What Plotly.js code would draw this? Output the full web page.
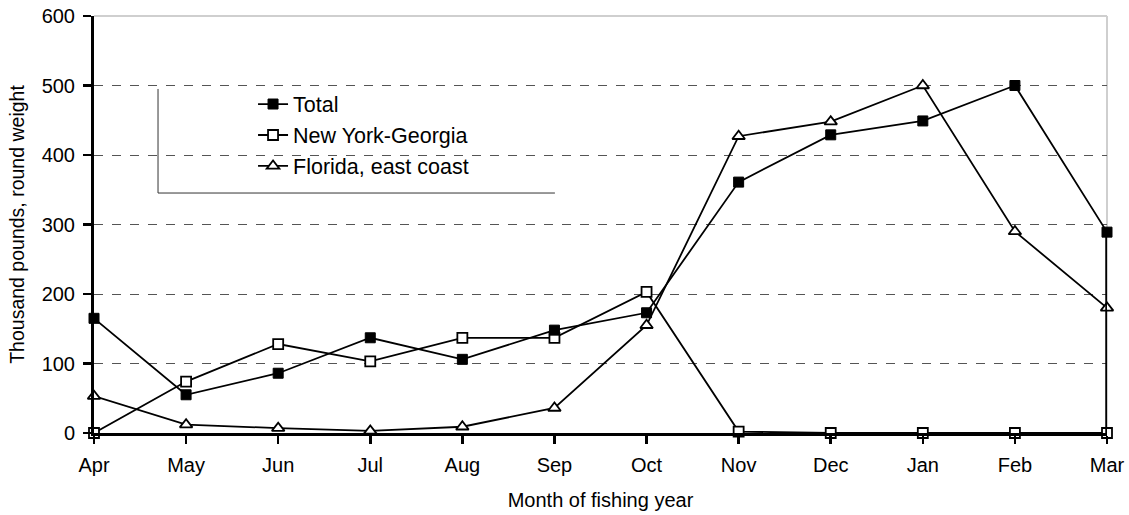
<!DOCTYPE html>
<html>
<head>
<meta charset="utf-8">
<script src="https://cdn.plot.ly/plotly-3.0.1.min.js"></script>
<style>html,body{margin:0;padding:0;background:#fff;}#chart{width:1129px;height:515px;}</style>
</head>
<body>
<div id="chart"></div>
<script>
const months = ["Apr","May","Jun","Jul","Aug","Sep","Oct","Nov","Dec","Jan","Feb","Mar"];
const total = [165, 55, 86, 137, 106, 148, 173, 361, 429, 449, 500, 289];
const newYorkGeorgia = [0, 74, 128, 103, 137, 137, 203, 2, 0, 0, 0, 0];
const floridaEast = [53, 12, 7, 3, 9, 36, 155, 427, 448, 500, 290, 180];
const yTicks = [0, 100, 200, 300, 400, 500, 600];

const FONT = "Liberation Sans, Arial, sans-serif";
const lineStyle = {color: "#000", width: 1.8};

const traces = [
  {
    x: months, y: floridaEast, type: "scatter", mode: "lines+markers",
    name: "Florida, east coast", legendgroup: "c", legendrank: 3,
    line: lineStyle, cliponaxis: false,
    marker: {symbol: "triangle-up", size: 11, color: "#fff", line: {color: "#000", width: 1.8}}
  },
  {
    x: months, y: newYorkGeorgia, type: "scatter", mode: "lines+markers",
    name: "New York-Georgia", legendgroup: "b", legendrank: 2,
    line: lineStyle, cliponaxis: false,
    marker: {symbol: "square", size: 10, color: "#fff", line: {color: "#000", width: 1.8}}
  },
  {
    x: months, y: total, type: "scatter", mode: "lines+markers",
    name: "Total", legendgroup: "a", legendrank: 1,
    line: lineStyle, cliponaxis: false,
    marker: {symbol: "square", size: 10, color: "#000", line: {color: "#000", width: 1}}
  },
  {
    x: [months[months.length - 1], months[months.length - 1]],
    y: [0, total[total.length - 1]],
    type: "scatter", mode: "lines", showlegend: false, hoverinfo: "skip",
    line: {color: "#000", width: 3.5}, cliponaxis: false
  }
];

const layout = {
  width: 1129, height: 515,
  margin: {l: 94, r: 22, t: 16, b: 82},
  paper_bgcolor: "#fff", plot_bgcolor: "#fff",
  font: {family: FONT, size: 20, color: "#000"},
  showlegend: true,
  legend: {
    x: 0.157, y: 0.838, xanchor: "left", yanchor: "top",
    bgcolor: "rgba(0,0,0,0)", borderwidth: 0,
    font: {family: FONT, size: 21.5, color: "#000"},
    tracegroupgap: 0, traceorder: "normal"
  },
  xaxis: {
    type: "category", range: [0, months.length - 1],
    showline: true, linecolor: "#000", linewidth: 3,
    ticks: "outside", ticklen: 8, tickwidth: 2.5, tickcolor: "#000",
    showgrid: false, zeroline: false,
    tickfont: {family: FONT, size: 20, color: "#000"},
    ticklabelstandoff: 4,
    title: {text: "Month of fishing year", font: {family: FONT, size: 20, color: "#000"}, standoff: 18}
  },
  yaxis: {
    range: [0, 600], tickvals: yTicks, ticktext: yTicks.map(String),
    showline: true, linecolor: "#000", linewidth: 3,
    ticks: "outside", ticklen: 8, tickwidth: 2.5, tickcolor: "#000",
    showgrid: true, gridcolor: "#555", gridwidth: 1, griddash: "dash",
    zeroline: false,
    tickfont: {family: FONT, size: 20, color: "#000"},
    ticklabelstandoff: 4,
    title: {text: "Thousand pounds, round weight", font: {family: FONT, size: 19.5, color: "#000"}, standoff: 12}
  },
  shapes: [
    {type: "line", xref: "paper", yref: "paper", x0: 0, x1: 1, y0: 1, y1: 1, line: {color: "#cfcfcf", width: 2}},
    {type: "line", xref: "paper", yref: "paper", x0: 1, x1: 1, y0: 0, y1: 1, line: {color: "#cfcfcf", width: 2}, layer: "below"},
    {type: "line", xref: "paper", yref: "paper", x0: 0.0632, x1: 0.0632, y0: 0.5755, y1: 0.825, line: {color: "#333", width: 1}},
    {type: "line", xref: "paper", yref: "paper", x0: 0.0632, x1: 0.455, y0: 0.5755, y1: 0.5755, line: {color: "#333", width: 1}}
  ]
};

Plotly.newPlot("chart", traces, layout, {displayModeBar: false, staticPlot: true});
</script>
</body>
</html>
